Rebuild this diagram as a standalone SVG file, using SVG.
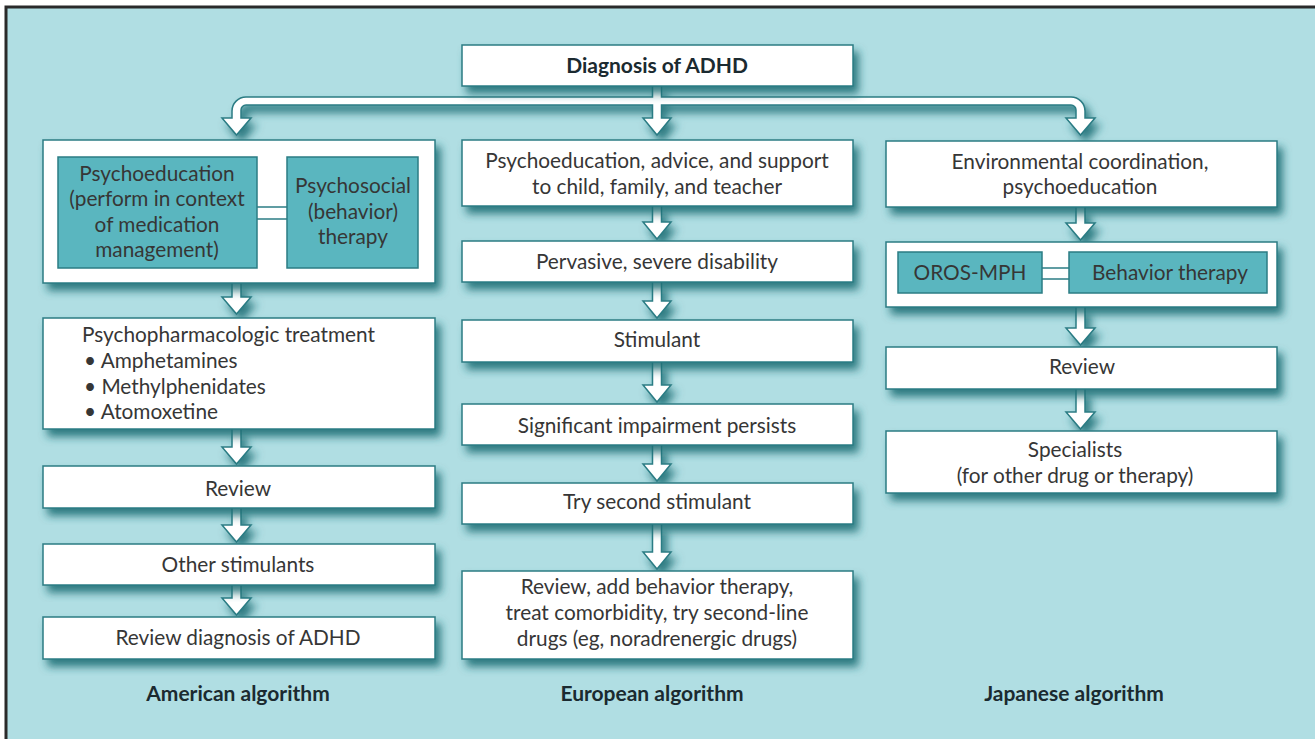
<svg xmlns="http://www.w3.org/2000/svg" width="1315" height="739" viewBox="0 0 1315 739">
<defs>
<filter id="sh" x="-10%" y="-20%" width="130%" height="160%">
<feDropShadow dx="5" dy="7" stdDeviation="4.5" flood-color="#1f6f77" flood-opacity="0.9"/>
</filter>
<style>
.box{fill:#fff;stroke:#2b7c84;stroke-width:1.5;}
.tb{fill:#5ab6bf;stroke:#2b7c84;stroke-width:1.5;}
.arr{fill:#fff;stroke:#2b7c84;stroke-width:1.5;stroke-linejoin:miter;}
.t{font-family:Lato,"Open Sans","Liberation Sans",sans-serif;font-size:20.8px;fill:#363636;text-anchor:middle;}
.tl{text-anchor:start;}
.b{font-family:Lato,"Open Sans","Liberation Sans",sans-serif;font-size:21px;font-weight:bold;fill:#1b2a30;text-anchor:middle;}
</style>
</defs>
<rect x="0" y="0" width="1315" height="739" fill="#fff"/>
<rect x="6" y="7" width="1309" height="732" fill="#b0dee3"/>
<path d="M6,739 V7 H1315" fill="none" stroke="#2a2a2a" stroke-width="3"/>

<g id="connectors" filter="url(#sh)">
<path class="arr" d="M652.5,86 L652.5,97 L246,97 A14,14 0 0 0 232,111 L232,118 L222,118 L236.5,135 L251,118 L241,118 L241,110 A5,5 0 0 1 246,105 L652.5,105 L652.5,118 L643,118 L657,135 L671,118 L661.5,118 L661.5,105 L1071,105 A5,5 0 0 1 1076,110 L1076,118 L1066,118 L1080.5,135 L1095,118 L1085,118 L1085,111 A14,14 0 0 0 1071,97 L661.5,97 L661.5,86"/>
<path class="arr" d="M232,283 V297 H222 L236.5,314 L251,297 H241 V283"/>
<path class="arr" d="M232,429 V447 H222 L236.5,464 L251,447 H241 V429"/>
<path class="arr" d="M232,508 V525 H222 L236.5,542 L251,525 H241 V508"/>
<path class="arr" d="M232,585 V598 H222 L236.5,615 L251,598 H241 V585"/>
<path class="arr" d="M652.5,206 V222 H643 L657,239 L671,222 H661.5 V206"/>
<path class="arr" d="M652.5,282 V301 H643 L657,318 L671,301 H661.5 V282"/>
<path class="arr" d="M652.5,362 V385 H643 L657,402 L671,385 H661.5 V362"/>
<path class="arr" d="M652.5,445 V464 H643 L657,481 L671,464 H661.5 V445"/>
<path class="arr" d="M652.5,524 V552 H643 L657,569 L671,552 H661.5 V524"/>
<path class="arr" d="M1076,207 V223 H1066 L1080.5,240 L1095,223 H1085 V207"/>
<path class="arr" d="M1076,307 V328 H1066 L1080.5,345 L1095,328 H1085 V307"/>
<path class="arr" d="M1076,389 V412 H1066 L1080.5,429 L1095,412 H1085 V389"/>
</g>

<g id="diagnosis"><rect class="box" filter="url(#sh)" x="462" y="45" width="391" height="41"/><text class="b" x="657" y="73" font-size="22.5">Diagnosis of ADHD</text></g>

<g id="am1">
<rect class="box" filter="url(#sh)" x="43" y="140" width="392" height="143"/>
<line x1="257" y1="207" x2="287" y2="207" stroke="#2b7c84" stroke-width="1.5"/>
<line x1="257" y1="219" x2="287" y2="219" stroke="#2b7c84" stroke-width="1.5"/>
<rect class="tb" x="58" y="157" width="199" height="111"/>
<rect class="tb" x="287" y="157" width="131" height="111"/>
<text class="t" x="157" y="181">Psychoeducation</text>
<text class="t" x="157" y="206">(perform in context</text>
<text class="t" x="157" y="232">of medication</text>
<text class="t" x="157" y="257">management)</text>
<text class="t" x="353" y="193">Psychosocial</text>
<text class="t" x="353" y="219">(behavior)</text>
<text class="t" x="353" y="244">therapy</text>
</g>
<g id="am2"><rect class="box" filter="url(#sh)" x="43" y="318" width="392" height="111"/>
<text class="t tl" x="82" y="342">Psychopharmacologic treatment</text>
<text class="t tl" x="84" y="368">• Amphetamines</text>
<text class="t tl" x="84" y="394">• Methylphenidates</text>
<text class="t tl" x="84" y="419">• Atomoxetine</text></g>
<g id="am3"><rect class="box" filter="url(#sh)" x="43" y="466" width="392" height="42"/><text class="t" x="238" y="496">Review</text></g>
<g id="am4"><rect class="box" filter="url(#sh)" x="43" y="544" width="392" height="41"/><text class="t" x="238" y="572">Other stimulants</text></g>
<g id="am5"><rect class="box" filter="url(#sh)" x="43" y="617" width="392" height="42"/><text class="t" x="238" y="645">Review diagnosis of ADHD</text></g>
<g id="am-label"><text class="b" x="238" y="701">American algorithm</text></g>

<g id="eu1"><rect class="box" filter="url(#sh)" x="462" y="140" width="391" height="66"/>
<text class="t" x="657" y="168">Psychoeducation, advice, and support</text>
<text class="t" x="657" y="194">to child, family, and teacher</text></g>
<g id="eu2"><rect class="box" filter="url(#sh)" x="462" y="241" width="391" height="41"/><text class="t" x="657" y="269">Pervasive, severe disability</text></g>
<g id="eu3"><rect class="box" filter="url(#sh)" x="462" y="320" width="391" height="42"/><text class="t" x="657" y="347">Stimulant</text></g>
<g id="eu4"><rect class="box" filter="url(#sh)" x="462" y="404" width="391" height="41"/><text class="t" x="657" y="433">Significant impairment persists</text></g>
<g id="eu5"><rect class="box" filter="url(#sh)" x="462" y="483" width="391" height="41"/><text class="t" x="657" y="509">Try second stimulant</text></g>
<g id="eu6"><rect class="box" filter="url(#sh)" x="462" y="571" width="391" height="88"/>
<text class="t" x="657" y="594">Review, add behavior therapy,</text>
<text class="t" x="657" y="620">treat comorbidity, try second-line</text>
<text class="t" x="657" y="646">drugs (eg, noradrenergic drugs)</text></g>
<g id="eu-label"><text class="b" x="652" y="701">European algorithm</text></g>

<g id="jp1"><rect class="box" filter="url(#sh)" x="886" y="141" width="391" height="66"/>
<text class="t" x="1080" y="169">Environmental coordination,</text>
<text class="t" x="1080" y="194">psychoeducation</text></g>
<g id="jp2"><rect class="box" filter="url(#sh)" x="886" y="242" width="391" height="65"/>
<line x1="1042" y1="268" x2="1069" y2="268" stroke="#2b7c84" stroke-width="1.5"/>
<line x1="1042" y1="279" x2="1069" y2="279" stroke="#2b7c84" stroke-width="1.5"/>
<rect class="tb" x="898" y="252" width="144" height="41"/>
<rect class="tb" x="1069" y="252" width="198" height="41"/>
<text class="t" x="970" y="280">OROS-MPH</text>
<text class="t" x="1170" y="280">Behavior therapy</text></g>
<g id="jp3"><rect class="box" filter="url(#sh)" x="886" y="347" width="391" height="42"/><text class="t" x="1082" y="374">Review</text></g>
<g id="jp4"><rect class="box" filter="url(#sh)" x="886" y="431" width="391" height="62"/>
<text class="t" x="1075" y="457">Specialists</text>
<text class="t" x="1075" y="483">(for other drug or therapy)</text></g>
<g id="jp-label"><text class="b" x="1074" y="701">Japanese algorithm</text></g>
</svg>
